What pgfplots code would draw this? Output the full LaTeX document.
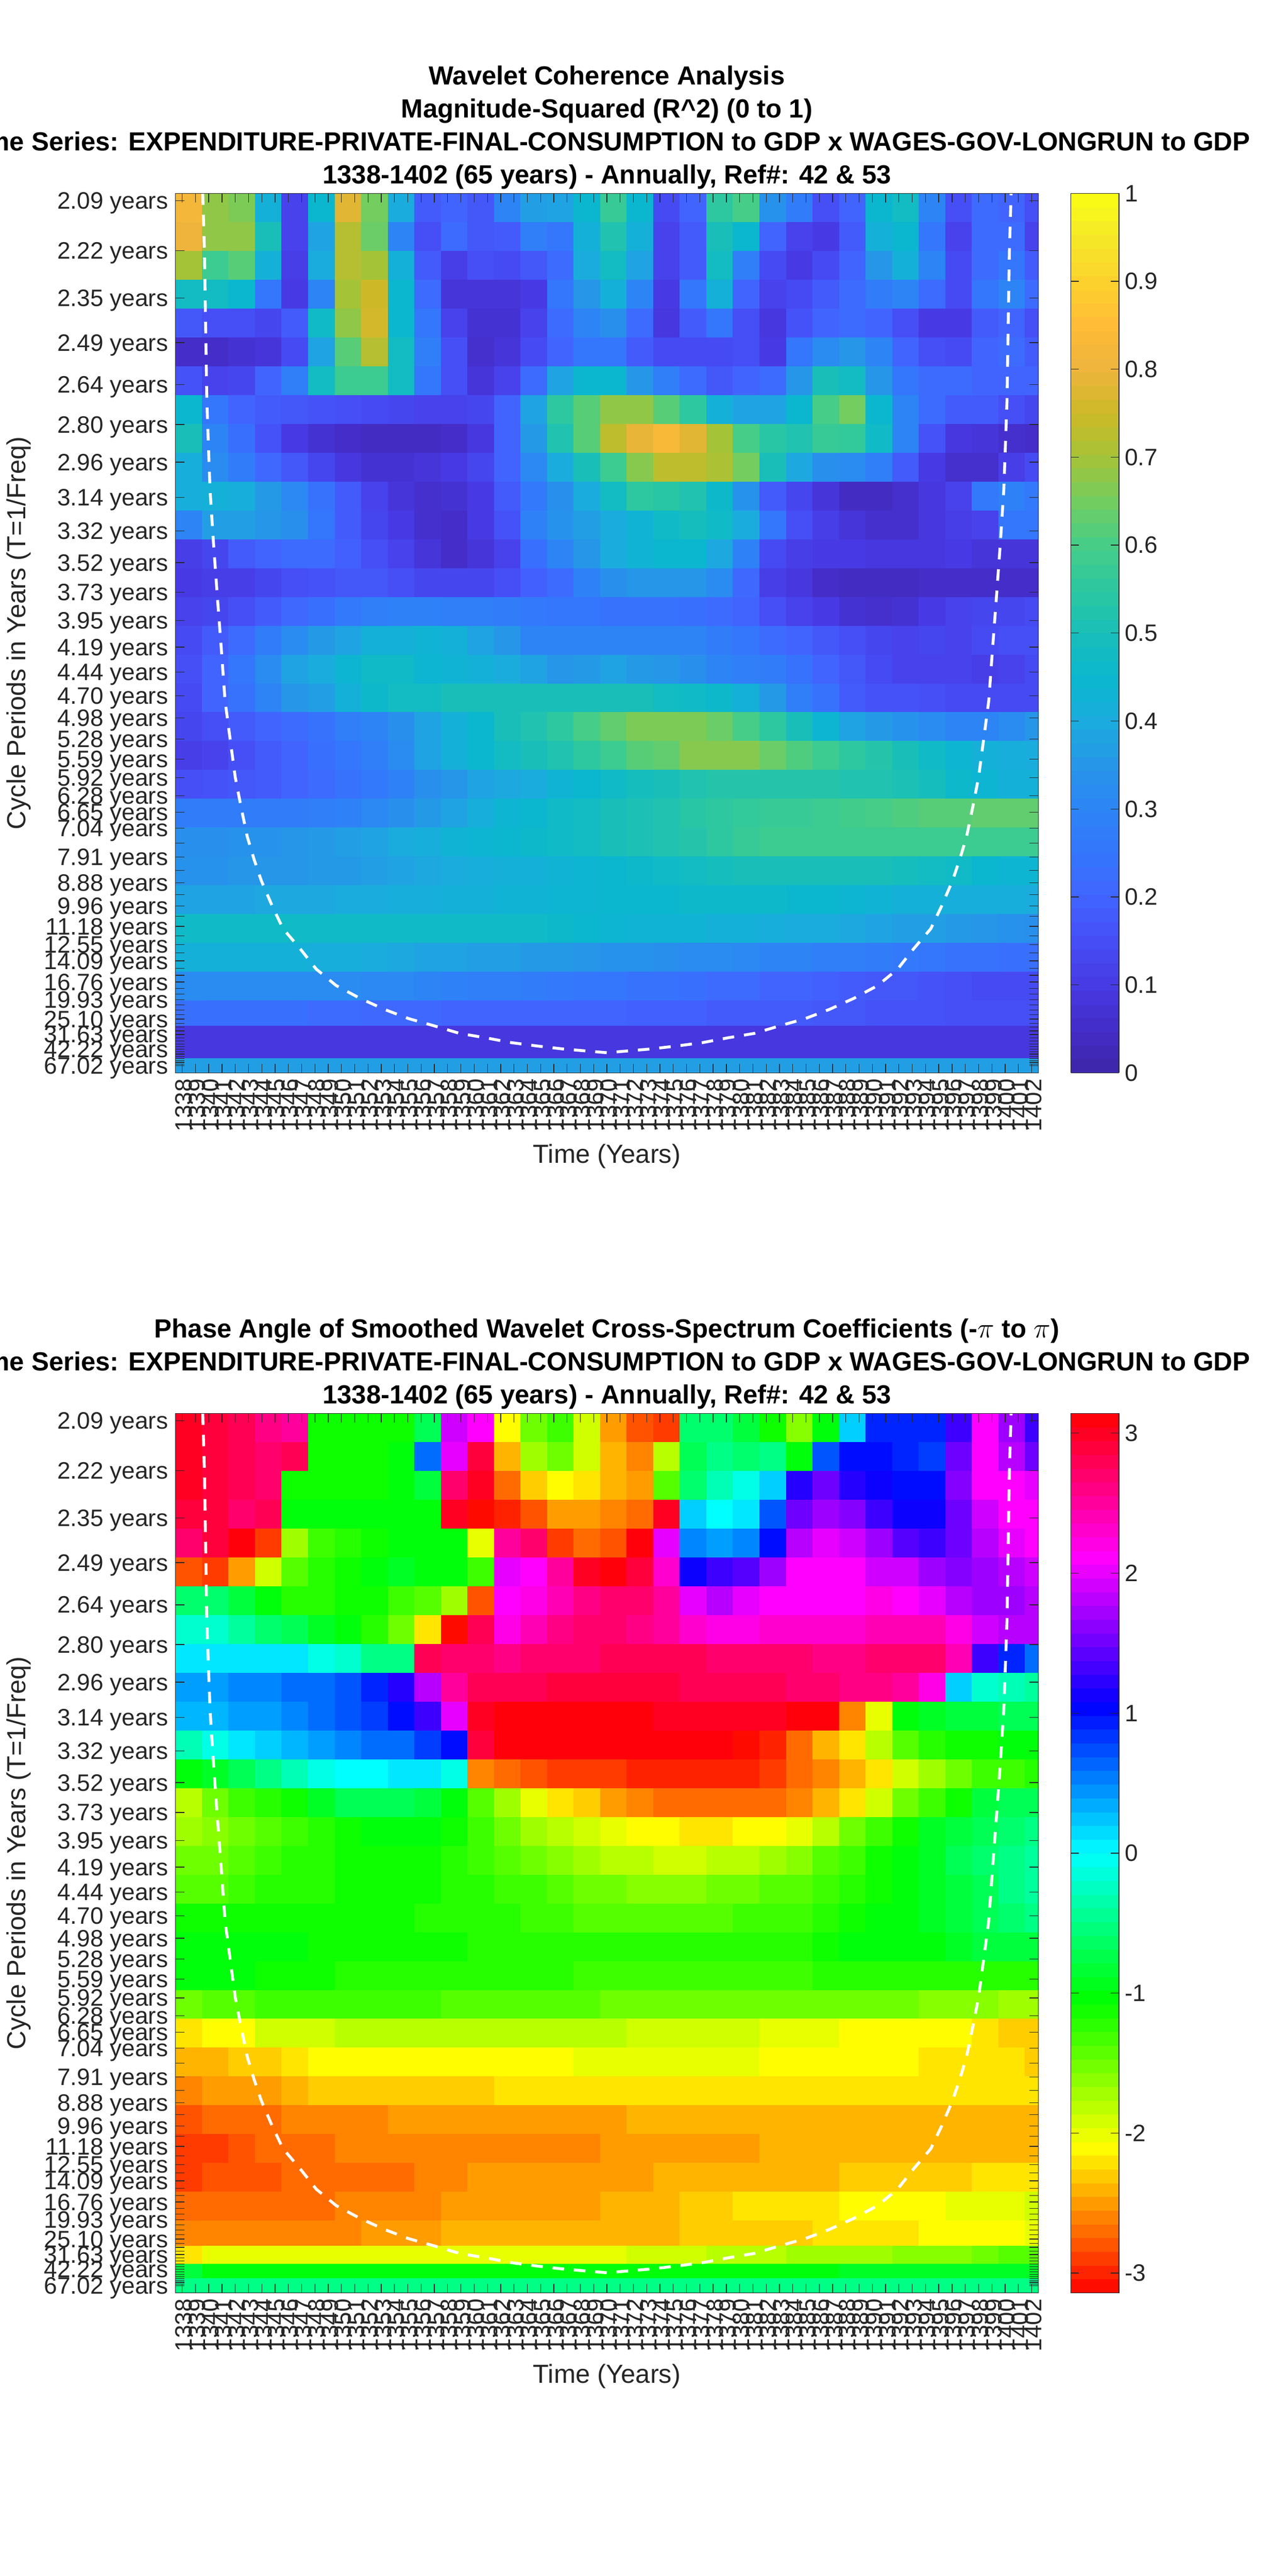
\documentclass[border=0pt]{standalone}
\usepackage{fontspec}
\setmainfont{Liberation Sans}
\usepackage{pgfplots}
\pgfplotsset{compat=1.18}
\definecolor{tk}{RGB}{38,38,38}
\pgfplotsset{
 colormap={myparula}{rgb255=(62,38,168) rgb255=(68,45,200) rgb255=(71,58,228) rgb255=(70,78,245) rgb255=(65,100,255) rgb255=(52,118,252) rgb255=(45,132,245) rgb255=(38,150,232) rgb255=(27,172,222) rgb255=(10,183,207) rgb255=(25,190,185) rgb255=(45,200,160) rgb255=(70,205,135) rgb255=(115,205,95) rgb255=(165,195,55) rgb255=(205,185,40) rgb255=(238,180,60) rgb255=(255,188,55) rgb255=(252,210,45) rgb255=(245,232,40) rgb255=(250,255,20)},
 colormap={myhsv}{rgb255=(255,0,0) rgb255=(255,255,0) rgb255=(0,255,0) rgb255=(0,255,255) rgb255=(0,0,255) rgb255=(255,0,255) rgb255=(255,0,0)}
}
% each row: y position (row of the wavelet matrix), then one value per two-year cell
\gdef\tabT{x y c\\}
\def\crow#1#2{\foreach \v [count=\k from 0] in {#2}{\xdef\tabT{\unexpanded\expandafter{\tabT}\the\numexpr1338+2*\k\relax.5 #1 \v e\scaleE\noexpand\\}}}
\def\scaleE{-2}
\crow{0.5}{82,68,66,42,12,45,78,65,40,18,20,17,30,37,38,45,57,45,14,20,55,60,34,27,15,20,45,48,30,15,22,20,15}
\crow{2.5}{80,68,68,50,12,38,72,64,30,15,22,17,18,28,25,42,52,42,12,18,50,45,20,12,10,18,42,45,25,12,22,22,12}
\crow{4.5}{70,58,62,42,11,40,72,70,42,18,11,15,14,17,22,40,48,38,12,18,48,28,14,10,14,20,35,42,30,14,22,25,18}
\crow{6.5}{48,48,45,25,10,30,70,75,45,22,8,8,8,10,25,35,42,30,10,25,42,20,12,14,18,22,27,30,22,14,25,30,22}
\crow{8.5}{17,15,15,13,18,47,68,76,45,25,12,7,7,12,22,30,33,22,9,18,25,15,9,16,20,22,20,15,10,10,18,20,15}
\crow{10.5}{5,5,7,8,14,38,62,72,48,28,15,6,8,14,20,25,25,18,14,14,14,15,10,25,32,35,30,20,15,14,20,22,18}
\crow{12.5}{16,12,13,20,28,48,58,58,48,25,15,8,12,22,38,45,45,35,28,22,17,20,22,35,50,48,35,25,22,22,20,20,20}
\crow{14.5}{45,25,20,18,17,16,15,14,13,12,12,13,20,38,55,62,68,68,62,55,42,38,38,45,60,65,45,30,22,18,18,15,13}
\crow{16.5}{50,30,23,16,10,7,5,4,4,4,5,9,20,36,52,62,73,79,83,78,70,60,54,52,57,56,47,30,16,9,8,6,5}
\crow{18.5}{41,32,27,21,17,13,9,7,7,8,10,13,20,31,40,50,58,67,73,73,71,65,50,39,33,32,28,18,10,6,6,11,14}
\crow{20.5}{41,42,41,36,31,24,18,12,8,6,7,10,18,26,33,40,48,55,54,52,46,34,18,13,8,4,4,6,9,12,26,29,26}
\crow{22.5}{30,37,37,35,33,25,18,13,10,6,5,10,16,29,34,37,40,43,47,49,47,40,25,15,11,8,6,6,9,11,12,25,25}
\crow{24.5}{11,13,18,20,22,22,19,15,12,8,5,8,12,23,30,35,40,43,45,45,39,29,14,11,10,10,9,9,9,10,8,8,8}
\crow{26.5}{10,11,11,13,15,16,17,17,15,13,13,13,15,19,22,29,33,35,35,35,32,21,11,9,5,4,4,4,5,5,5,5,5}
\crow{28.5}{12,13,15,18,21,23,26,28,29,29,28,28,27,26,25,25,24,24,24,23,22,20,15,12,10,7,6,7,10,12,13,13,14}
\crow{30.5}{14,18,22,27,32,36,38,42,42,43,42,38,35,30,30,30,30,30,30,30,27,25,22,20,17,15,13,12,13,12,14,15,15}
\crow{32.5}{15,20,25,32,38,40,44,47,47,44,43,42,40,38,35,36,38,36,35,33,30,28,27,24,20,17,14,12,12,12,11,12,14}
\crow{34.5}{14,20,24,30,35,37,42,46,48,48,50,50,50,50,50,50,50,50,48,47,46,42,36,28,24,18,16,16,15,14,14,14,14}
\crow{36.5}{13,15,18,20,22,24,28,30,33,38,42,45,50,52,55,60,63,66,66,66,64,60,55,50,44,38,36,34,32,30,30,32,35}
\crow{38.5}{11,12,15,18,20,23,25,28,32,38,42,45,48,50,52,55,58,62,63,67,67,67,64,61,58,55,53,50,47,44,42,41,40}
\crow{40.5}{15,16,17,18,20,22,24,26,29,33,35,38,39,40,43,45,47,49,50,52,53,53,53,53,53,52,52,51,49,46,44,42,42}
\crow{42.5}{27,27,27,27,27,28,29,31,33,36,38,41,44,45,47,48,50,51,52,54,55,56,57,57,58,59,60,61,62,62,63,63,63}
\crow{44.5}{33,33,34,34,35,36,37,38,40,41,43,44,45,46,47,48,50,51,52,53,55,57,58,58,58,58,58,58,58,58,58,58,58}
\crow{46.5}{34,34,35,35,35,36,36,37,38,39,40,41,42,42,43,44,45,46,47,48,49,50,50,50,50,50,50,49,48,47,45,44,44}
\crow{48.5}{38,38,38,39,39,39,40,40,41,41,42,42,43,43,44,44,45,45,45,46,46,46,46,45,45,44,43,42,42,41,41,41,40}
\crow{50.5}{47,47,47,47,47,47,47,47,47,47,47,47,47,47,46,45,44,43,43,43,42,42,41,40,40,39,38,37,37,36,35,34,33}
\crow{52.5}{42,42,42,42,42,41,41,40,39,38,38,37,37,36,36,35,34,34,33,32,32,31,30,30,28,28,27,26,25,24,24,23,23}
\crow{54.5}{32,32,32,32,32,32,32,31,31,30,29,28,28,27,26,25,25,24,24,23,22,22,20,20,19,18,17,17,16,15,14,14,14}
\crow{56.5}{23,23,23,23,23,22,22,21,21,21,20,20,20,20,20,20,20,19,19,19,18,18,18,18,17,17,16,16,16,15,15,15,15}
\crow{58}{9,9,9,9,9,9,9,9,9,9,9,9,9,9,9,9,9,9,9,9,9,9,9,9,9,9,9,9,9,9,9,9,9}
\crow{59}{9,9,9,9,9,9,9,9,9,9,9,9,9,9,9,9,9,9,9,9,9,9,9,9,9,9,9,9,9,9,9,9,9}
\crow{60}{37,37,37,37,37,37,37,37,37,37,37,37,37,37,37,37,37,37,37,37,37,37,37,37,37,37,37,37,37,37,37,37,37}
\let\cohT\tabT
\gdef\tabT{x y c\\}
\def\scaleE{-1}
\crow{0.5}{30,29,28,26,25,-11,-11,-11,-11,-7,19,21,-21,-15,-13,-19,-25,-28,-29,-6,-6,-8,-11,-16,-10,2,9,9,9,13,21,17,13}
\crow{2.5}{30,29,28,27,28,-11,-11,-11,-10,6,20,29,-24,-17,-15,-19,-24,-26,-18,-7,-5,-6,-5,-10,7,10,10,9,8,15,21,18,15}
\crow{4.5}{30,29,28,27,-11,-11,-11,-11,-10,-8,27,30,-27,-23,-21,-22,-24,-25,-14,-6,-3,-1,2,12,15,12,11,10,10,16,21,21,20}
\crow{6.5}{29,29,27,28,-10,-10,-10,-10,-10,-10,30,-31,-30,-28,-25,-25,-26,-27,30,2,0,1,7,15,17,16,13,11,11,15,19,21,21}
\crow{8.5}{27,29,31,-29,-17,-13,-12,-11,-10,-10,-10,-20,25,27,-29,-27,-28,31,20,5,4,5,10,18,20,19,17,14,13,15,18,20,21}
\crow{10.5}{-28,-29,-25,-19,-14,-12,-11,-10,-9,-10,-10,-13,20,21,25,30,31,29,23,11,13,14,17,21,21,21,19,19,17,16,17,18,19}
\crow{12.5}{-6,-6,-8,-10,-12,-12,-11,-11,-13,-14,-17,-28,21,22,24,26,27,27,25,20,18,20,21,21,21,21,22,21,20,18,17,17,18}
\crow{14.5}{-2,-2,-4,-6,-7,-9,-10,-12,-15,-22,-31,28,22,24,26,27,27,26,25,23,22,22,23,23,23,23,24,24,24,22,19,18,18}
\crow{16.5}{1,1,1,1,1,-1,-2,-5,-5,28,27,27,26,27,27,27,28,28,28,28,27,27,27,27,26,26,27,27,27,24,13,9,6}
\crow{18.5}{4,4,5,5,6,6,7,9,12,18,25,28,28,28,29,29,29,29,29,28,28,28,28,27,27,26,26,25,22,2,-2,-3,-4}
\crow{20.5}{3,3,4,4,5,6,7,8,10,13,20,30,31,31,31,31,31,31,30,30,30,30,30,31,31,-26,-20,-10,-9,-8,-8,-7,-7}
\crow{22.5}{-3,-1,1,2,3,4,5,6,6,8,10,29,31,31,31,31,31,31,31,31,31,-31,-30,-27,-24,-22,-18,-14,-12,-11,-11,-10,-10}
\crow{24.5}{-10,-9,-7,-5,-3,-1,0,0,1,1,-1,-26,-27,-28,-29,-29,-29,-30,-30,-30,-30,-30,-29,-27,-26,-24,-22,-19,-17,-15,-13,-13,-12}
\crow{26.5}{-18,-15,-13,-12,-11,-9,-7,-7,-7,-8,-10,-14,-17,-20,-22,-23,-25,-26,-27,-27,-27,-27,-27,-26,-24,-22,-19,-15,-13,-11,-8,-7,-7}
\crow{28.5}{-17,-16,-15,-14,-13,-12,-11,-10,-10,-10,-11,-13,-15,-17,-18,-19,-20,-21,-21,-22,-22,-21,-21,-20,-18,-15,-13,-11,-9,-8,-7,-6,-5}
\crow{30.5}{-15,-15,-14,-13,-12,-12,-11,-11,-11,-11,-12,-13,-14,-15,-16,-17,-18,-18,-19,-19,-18,-18,-17,-16,-14,-13,-11,-10,-9,-7,-6,-5,-4}
\crow{32.5}{-14,-14,-13,-12,-12,-12,-11,-11,-11,-11,-12,-12,-13,-13,-14,-15,-15,-16,-16,-16,-15,-15,-14,-14,-13,-12,-11,-10,-9,-8,-7,-5,-4}
\crow{34.5}{-11,-11,-11,-11,-11,-11,-11,-11,-11,-12,-12,-12,-12,-13,-13,-14,-14,-14,-14,-14,-14,-13,-13,-13,-12,-11,-10,-10,-9,-8,-7,-6,-5}
\crow{36.5}{-10,-10,-10,-10,-10,-11,-11,-11,-11,-11,-11,-12,-12,-12,-12,-12,-12,-12,-12,-12,-12,-12,-12,-12,-11,-10,-10,-10,-10,-9,-8,-8,-8}
\crow{38.5}{-10,-10,-10,-11,-11,-11,-12,-12,-12,-12,-12,-12,-12,-12,-12,-13,-13,-13,-13,-13,-13,-13,-13,-13,-12,-12,-12,-12,-12,-12,-12,-12,-12}
\crow{40.5}{-15,-14,-14,-13,-13,-13,-13,-13,-13,-13,-14,-14,-14,-14,-14,-14,-15,-15,-15,-15,-15,-15,-15,-15,-15,-15,-15,-15,-16,-16,-16,-17,-17}
\crow{42.5}{-22,-21,-21,-19,-19,-19,-18,-18,-18,-18,-18,-18,-18,-18,-18,-18,-18,-19,-19,-19,-19,-19,-20,-20,-20,-21,-21,-21,-21,-21,-22,-23,-23}
\crow{44.5}{-24,-24,-23,-23,-22,-21,-21,-21,-21,-21,-21,-21,-21,-21,-21,-20,-20,-20,-20,-20,-20,-20,-21,-21,-21,-21,-21,-21,-22,-22,-22,-22,-23}
\crow{46.5}{-26,-25,-25,-25,-24,-23,-23,-23,-23,-23,-23,-23,-22,-22,-22,-22,-22,-22,-22,-22,-22,-22,-22,-22,-22,-22,-22,-22,-22,-22,-22,-22,-22}
\crow{48.5}{-28,-27,-27,-27,-26,-26,-26,-26,-25,-25,-25,-25,-25,-25,-25,-25,-25,-24,-24,-24,-24,-24,-24,-24,-24,-24,-24,-24,-24,-24,-24,-24,-24}
\crow{50.5}{-29,-29,-28,-27,-27,-27,-26,-26,-26,-26,-26,-26,-26,-26,-26,-26,-25,-25,-25,-25,-25,-25,-24,-24,-24,-24,-24,-24,-24,-24,-24,-24,-24}
\crow{52.5}{-29,-28,-28,-28,-27,-27,-27,-27,-27,-26,-26,-25,-25,-25,-25,-25,-25,-25,-24,-24,-24,-24,-24,-24,-24,-23,-23,-23,-23,-23,-22,-22,-22}
\crow{54.5}{-27,-27,-27,-27,-27,-27,-26,-26,-26,-26,-25,-25,-25,-25,-25,-25,-24,-24,-24,-23,-23,-22,-22,-22,-22,-21,-21,-21,-21,-20,-20,-20,-19}
\crow{56.5}{-26,-26,-26,-26,-26,-26,-26,-25,-25,-25,-24,-24,-24,-24,-24,-24,-24,-24,-24,-23,-23,-23,-23,-23,-22,-22,-22,-22,-21,-21,-21,-21,-20}
\crow{58}{-22,-20,-20,-20,-20,-20,-20,-20,-20,-20,-20,-20,-20,-20,-20,-20,-20,-19,-19,-19,-18,-18,-18,-17,-17,-17,-17,-16,-16,-16,-15,-14,-14}
\crow{59}{-8,-10,-10,-10,-10,-10,-10,-10,-10,-10,-10,-10,-10,-10,-10,-10,-10,-10,-10,-10,-10,-10,-10,-10,-10,-9,-9,-9,-9,-9,-9,-9,-9}
\crow{60}{-5,-5,-5,-5,-5,-5,-5,-5,-5,-5,-5,-5,-5,-5,-5,-5,-5,-5,-5,-5,-5,-5,-5,-5,-5,-5,-5,-5,-5,-5,-5,-5,-5}
\let\phaT\tabT
\def\fs#1{\fontsize{#1}{#1}\selectfont}
\pgfplotsset{wave/.style={
 scale only axis, width=523.5pt, height=533.7pt, axis on top,
 enlargelimits=false, xmin=1337.5, xmax=1402.5, ymin=-0.5, ymax=60.5, y dir=reverse,
 xtick={1338,1339,1340,1341,1342,1343,1344,1345,1346,1347,1348,1349,1350,1351,1352,1353,1354,1355,1356,1357,1358,1359,1360,1361,1362,1363,1364,1365,1366,1367,1368,1369,1370,1371,1372,1373,1374,1375,1376,1377,1378,1379,1380,1381,1382,1383,1384,1385,1386,1387,1388,1389,1390,1391,1392,1393,1394,1395,1396,1397,1398,1399,1400,1401,1402},
 xticklabels={1338,1339,1340,1341,1342,1343,1344,1345,1346,1347,1348,1349,1350,1351,1352,1353,1354,1355,1356,1357,1358,1359,1360,1361,1362,1363,1364,1365,1366,1367,1368,1369,1370,1371,1372,1373,1374,1375,1376,1377,1378,1379,1380,1381,1382,1383,1384,1385,1386,1387,1388,1389,1390,1391,1392,1393,1394,1395,1396,1397,1398,1399,1400,1401,1402},
 ytick={0,3.476,6.757,9.854,12.777,15.536,18.140,20.598,22.918,25.108,27.175,29.126,30.968,32.705,34.346,35.894,37.356,38.735,40.037,41.267,42.427,43.522,44.555,45.530,46.451,47.320,48.141,48.915,49.645,50.335,50.986,51.601,52.181,52.728,53.245,53.733,54.193,54.628,55.038,55.425,55.791,56.136,56.461,56.768,57.058,57.332,57.590,57.834,58.064,58.282,58.487,58.680,58.862,59.035,59.198,59.352,59.497,59.634,59.762,59.884,60},
 yticklabels={2.09 years,2.22 years,2.35 years,2.49 years,2.64 years,2.80 years,2.96 years,3.14 years,3.32 years,3.52 years,3.73 years,3.95 years,4.19 years,4.44 years,4.70 years,4.98 years,5.28 years,5.59 years,5.92 years,6.28 years,6.65 years,7.04 years,,7.91 years,,8.88 years,,9.96 years,,11.18 years,,12.55 years,,14.09 years,,,16.76 years,,,19.93 years,,,,25.10 years,,,,31.63 years,,,,,42.22 years,,,,,,,,67.02 years},
 tick align=inside, major tick length=5.5pt, tick style={tk,line width=0.4pt},
 axis line style={tk,line width=0.4pt},
 ticklabel style={font=\fs{14.4},text=tk},
 xticklabel style={rotate=90,anchor=east,xshift=0pt,yshift=-1pt},
 yticklabel style={xshift=-1pt,yshift=-1.5pt},
 xlabel={Time (Years)}, ylabel={Cycle Periods in Years (T=1/Freq)},
 label style={font=\fs{15.84},text=tk},
 xlabel style={at={(axis description cs:0.5,0)},anchor=center,yshift=-50.5pt},
 ylabel style={at={(axis description cs:0,0.5)},anchor=center,yshift=95pt},
 title style={font=\bfseries\fs{15.9},align=center,at={(axis description cs:0.5,1)},anchor=south,yshift=-7pt,
   execute at begin node={\setlength{\baselineskip}{20pt}}},
 colorbar sampled,
}}
\begin{document}
\begin{tikzpicture}
\begin{axis}[wave, at={(106.5pt,912pt)}, anchor=south west,
 colormap name=myparula, point meta min=0, point meta max=1,
 title={Wavelet Coherence Analysis\\Magnitude-Squared (R\textasciicircum 2) (0 to 1)\\Time Series: EXPENDITURE-PRIVATE-FINAL-CONSUMPTION to GDP x WAGES-GOV-LONGRUN to GDP\\1338-1402 (65 years) - Annually, Ref\#: 42 \& 53},
 colorbar style={at={(1.0377,1)},anchor=north west,width=29.25pt,ytick={0,0.1,0.2,0.3,0.4,0.5,0.6,0.7,0.8,0.9,1},yticklabel pos=right,samples=65,
   tick align=inside,major tick length=5pt,ticklabel style={font=\fs{14.4},text=tk},xshift=0pt,
   /pgf/number format/assume math mode=true,/pgf/number format/fixed,axis line style={tk,line width=0.4pt}},
]
\edef\doplot{\noexpand\addplot[matrix plot*,mesh/cols=33,point meta=explicit,draw=mapped color,line width=0.2pt] table[row sep=crcr,x=x,y=y,meta=c]{\unexpanded\expandafter{\cohT}};}
\doplot
\addplot[white,line width=1.75pt,dash pattern=on 7pt off 6pt] coordinates {(1339.55,-0.5)(1339.68,3.59)(1339.86,13.93)(1340.1,20.07)(1340.36,23.76)(1340.67,27.7)(1340.97,31.36)(1341.23,34.67)(1341.54,36.84)(1342,40)(1342.44,42.07)(1342.9,44.1)(1343.4,45.64)(1343.96,47.16)(1344.8,48.96)(1345.6,50.5)(1346.9,51.9)(1348.1,53.3)(1349.6,54.44)(1351.4,55.33)(1353.25,56.1)(1355.05,56.73)(1357,57.24)(1358.9,57.76)(1360.9,58.07)(1362.8,58.4)(1364.8,58.64)(1366.7,58.84)(1370,59.1)(1373.3,58.84)(1375.2,58.64)(1377.2,58.4)(1379.1,58.07)(1381.1,57.76)(1383,57.24)(1384.95,56.73)(1386.75,56.1)(1388.6,55.33)(1390.4,54.44)(1391.9,53.3)(1393.1,51.9)(1394.4,50.5)(1395.2,48.96)(1396.04,47.16)(1396.6,45.64)(1397.1,44.1)(1397.56,42.07)(1398,40)(1398.46,36.84)(1398.77,34.67)(1399.03,31.36)(1399.33,27.7)(1399.64,23.76)(1399.9,20.07)(1400.14,13.93)(1400.32,3.59)(1400.45,-0.5)};
\end{axis}
\begin{axis}[wave, at={(106.5pt,171.75pt)}, anchor=south west,
 colormap name=myhsv, point meta min=-3.14159, point meta max=3.14159,
 title={Phase Angle of Smoothed Wavelet Cross-Spectrum Coefficients (-$\pi$ to $\pi$)\\Time Series: EXPENDITURE-PRIVATE-FINAL-CONSUMPTION to GDP x WAGES-GOV-LONGRUN to GDP\\1338-1402 (65 years) - Annually, Ref\#: 42 \& 53},
 colorbar style={at={(1.0377,1)},anchor=north west,width=29.25pt,ytick={-3,-2,-1,0,1,2,3},yticklabel pos=right,samples=65,
   tick align=inside,major tick length=5pt,ticklabel style={font=\fs{14.4},text=tk},
   /pgf/number format/assume math mode=true,axis line style={tk,line width=0.4pt}},
]
\edef\doplot{\noexpand\addplot[matrix plot*,mesh/cols=33,point meta=explicit,draw=mapped color,line width=0.2pt] table[row sep=crcr,x=x,y=y,meta=c]{\unexpanded\expandafter{\phaT}};}
\doplot
\addplot[white,line width=1.75pt,dash pattern=on 7pt off 6pt] coordinates {(1339.55,-0.5)(1339.68,3.59)(1339.86,13.93)(1340.1,20.07)(1340.36,23.76)(1340.67,27.7)(1340.97,31.36)(1341.23,34.67)(1341.54,36.84)(1342,40)(1342.44,42.07)(1342.9,44.1)(1343.4,45.64)(1343.96,47.16)(1344.8,48.96)(1345.6,50.5)(1346.9,51.9)(1348.1,53.3)(1349.6,54.44)(1351.4,55.33)(1353.25,56.1)(1355.05,56.73)(1357,57.24)(1358.9,57.76)(1360.9,58.07)(1362.8,58.4)(1364.8,58.64)(1366.7,58.84)(1370,59.1)(1373.3,58.84)(1375.2,58.64)(1377.2,58.4)(1379.1,58.07)(1381.1,57.76)(1383,57.24)(1384.95,56.73)(1386.75,56.1)(1388.6,55.33)(1390.4,54.44)(1391.9,53.3)(1393.1,51.9)(1394.4,50.5)(1395.2,48.96)(1396.04,47.16)(1396.6,45.64)(1397.1,44.1)(1397.56,42.07)(1398,40)(1398.46,36.84)(1398.77,34.67)(1399.03,31.36)(1399.33,27.7)(1399.64,23.76)(1399.9,20.07)(1400.14,13.93)(1400.32,3.59)(1400.45,-0.5)};
\end{axis}
\pgfresetboundingbox
\path[use as bounding box] (0,0) rectangle (781.25pt,1563pt);
\end{tikzpicture}
\end{document}
